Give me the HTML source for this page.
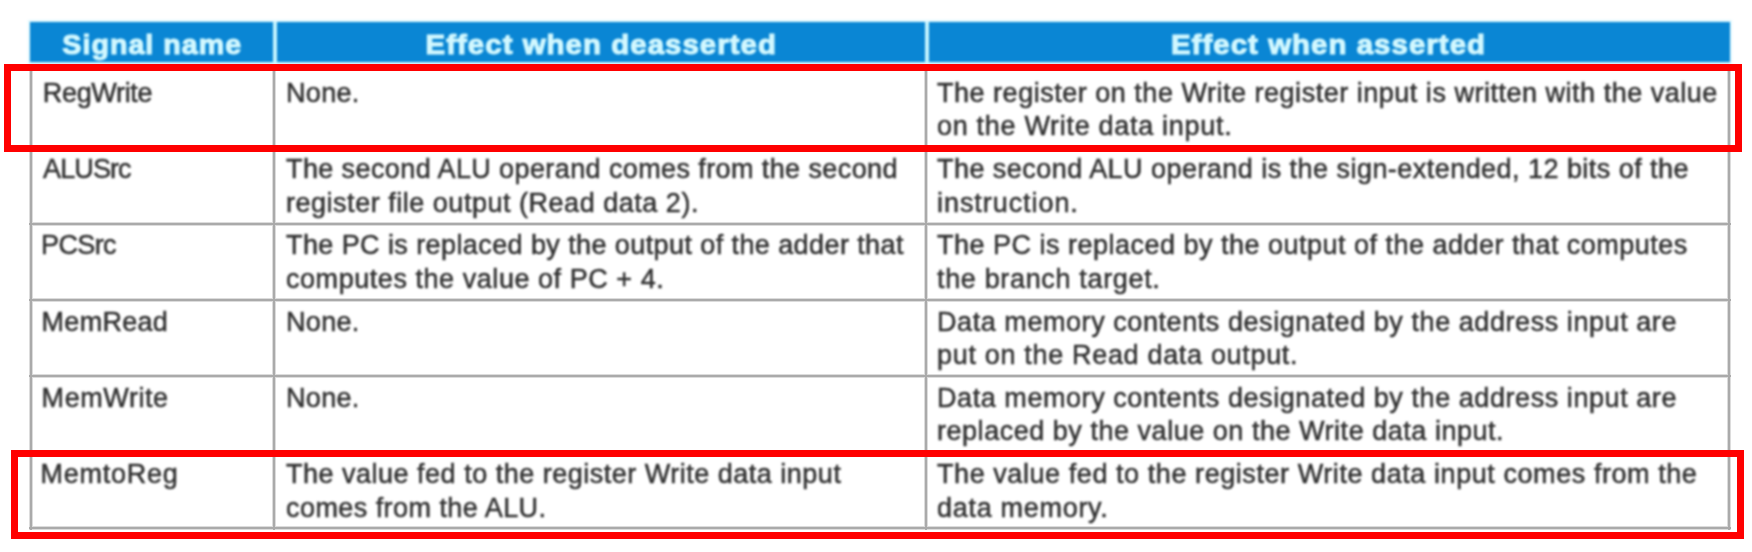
<!DOCTYPE html>
<html><head><meta charset="utf-8"><style>
html,body{margin:0;padding:0;background:#fff;}
body{width:1752px;height:552px;position:relative;overflow:hidden;}
#w{position:absolute;left:0;top:0;width:1752px;height:552px;filter:blur(1px);font-family:"Liberation Sans",sans-serif;}
.a{position:absolute;}
.hd{position:absolute;left:30px;top:22px;width:1700px;height:40px;background:#0a86d4;}
.hdiv{position:absolute;top:22px;height:40px;width:4px;background:#c4f4ff;}
.ht{position:absolute;transform:scaleX(1.05);-webkit-text-stroke:1.1px #d2f8ff;top:22px;height:40px;line-height:40px;text-align:center;color:#d2f8ff;font-weight:bold;font-size:28px;letter-spacing:1.0px;white-space:pre;}
.g{position:absolute;background:#dcdcdc;}
.gc{position:absolute;background:#aaaaaa;}
.t{position:absolute;-webkit-text-stroke:0.5px #303030;font-size:27px;line-height:34px;color:#303030;letter-spacing:0.52px;word-spacing:0px;white-space:pre;}
.r{position:absolute;box-sizing:border-box;border:7px solid #ff0000;}
</style></head><body><div id="w">

<div class="a" style="left:28px;top:20px;width:1704px;height:44px;background:#c4f4ff;opacity:0.5"></div>
<div class="hd"></div>
<div class="a" style="left:30px;top:62px;width:1700px;height:2px;background:#c4f4ff"></div>
<div class="hdiv" style="left:272.5px"></div>
<div class="hdiv" style="left:925px"></div>
<div class="ht" style="left:30px;width:244.5px;top:25px;transform:scaleX(1.022)">Signal name</div>
<div class="ht" style="left:274.5px;width:652.5px;top:25px;transform:scaleX(1.05)">Effect when deasserted</div>
<div class="ht" style="left:927.0px;width:803.0px;top:25px;transform:scaleX(1.05)">Effect when asserted</div>
<div class="t" style="left:42.80px;top:75.70px;letter-spacing:-0.337px">RegWrite</div>
<div class="t" style="left:286.00px;top:75.70px;letter-spacing:0.320px">None.</div>
<div class="t" style="left:937.00px;top:75.70px;letter-spacing:0.516px">The register on the Write register input is written with the value</div>
<div class="t" style="left:937.00px;top:109.45px;letter-spacing:0.694px">on the Write data input.</div>
<div class="t" style="left:43.00px;top:151.96px;letter-spacing:-0.880px">ALUSrc</div>
<div class="t" style="left:286.00px;top:151.96px;letter-spacing:0.399px">The second ALU operand comes from the second</div>
<div class="t" style="left:286.00px;top:185.71px;letter-spacing:0.520px">register file output (Read data 2).</div>
<div class="t" style="left:937.00px;top:151.96px;letter-spacing:0.458px">The second ALU operand is the sign-extended, 12 bits of the</div>
<div class="t" style="left:937.00px;top:185.71px;letter-spacing:0.937px">instruction.</div>
<div class="t" style="left:41.00px;top:228.20px;letter-spacing:-0.630px">PCSrc</div>
<div class="t" style="left:286.00px;top:228.20px;letter-spacing:0.410px">The PC is replaced by the output of the adder that</div>
<div class="t" style="left:286.00px;top:261.95px;letter-spacing:0.548px">computes the value of PC + 4.</div>
<div class="t" style="left:937.00px;top:228.20px;letter-spacing:0.490px">The PC is replaced by the output of the adder that computes</div>
<div class="t" style="left:937.00px;top:261.95px;letter-spacing:0.660px">the branch target.</div>
<div class="t" style="left:41.60px;top:304.50px;letter-spacing:0.287px">MemRead</div>
<div class="t" style="left:286.00px;top:304.50px;letter-spacing:0.320px">None.</div>
<div class="t" style="left:937.00px;top:304.50px;letter-spacing:0.564px">Data memory contents designated by the address input are</div>
<div class="t" style="left:937.00px;top:338.25px;letter-spacing:0.675px">put on the Read data output.</div>
<div class="t" style="left:41.60px;top:380.70px;letter-spacing:0.576px">MemWrite</div>
<div class="t" style="left:286.00px;top:380.70px;letter-spacing:0.320px">None.</div>
<div class="t" style="left:937.00px;top:380.70px;letter-spacing:0.564px">Data memory contents designated by the address input are</div>
<div class="t" style="left:937.00px;top:414.45px;letter-spacing:0.528px">replaced by the value on the Write data input.</div>
<div class="t" style="left:40.60px;top:457.00px;letter-spacing:0.719px">MemtoReg</div>
<div class="t" style="left:286.00px;top:457.00px;letter-spacing:0.502px">The value fed to the register Write data input</div>
<div class="t" style="left:286.00px;top:490.75px;letter-spacing:0.442px">comes from the ALU.</div>
<div class="t" style="left:937.00px;top:457.00px;letter-spacing:0.567px">The value fed to the register Write data input comes from the</div>
<div class="t" style="left:937.00px;top:490.75px;letter-spacing:0.702px">data memory.</div>
</div>
<div class="g" style="left:29px;top:71px;width:4px;height:459px"></div>
<div class="g" style="left:272px;top:71px;width:4px;height:459px"></div>
<div class="g" style="left:924px;top:71px;width:4px;height:459px"></div>
<div class="g" style="left:1727px;top:71px;width:4px;height:459px"></div>
<div class="g" style="left:29px;top:146px;width:1702px;height:4px"></div>
<div class="g" style="left:29px;top:222px;width:1702px;height:4px"></div>
<div class="g" style="left:29px;top:298px;width:1702px;height:4px"></div>
<div class="g" style="left:29px;top:374px;width:1702px;height:4px"></div>
<div class="g" style="left:29px;top:450px;width:1702px;height:4px"></div>
<div class="g" style="left:29px;top:526px;width:1702px;height:4px"></div>
<div class="gc" style="left:30px;top:71px;width:2px;height:459px"></div>
<div class="gc" style="left:273px;top:71px;width:2px;height:459px"></div>
<div class="gc" style="left:925px;top:71px;width:2px;height:459px"></div>
<div class="gc" style="left:1728px;top:71px;width:2px;height:459px"></div>
<div class="gc" style="left:29px;top:147px;width:1702px;height:2px"></div>
<div class="gc" style="left:29px;top:223px;width:1702px;height:2px"></div>
<div class="gc" style="left:29px;top:299px;width:1702px;height:2px"></div>
<div class="gc" style="left:29px;top:375px;width:1702px;height:2px"></div>
<div class="gc" style="left:29px;top:451px;width:1702px;height:2px"></div>
<div class="gc" style="left:29px;top:527px;width:1702px;height:2px"></div>
<div class="r" style="left:4px;top:64px;width:1738px;height:88px"></div>
<div class="r" style="left:11px;top:450px;width:1733px;height:89px"></div>
</body></html>
